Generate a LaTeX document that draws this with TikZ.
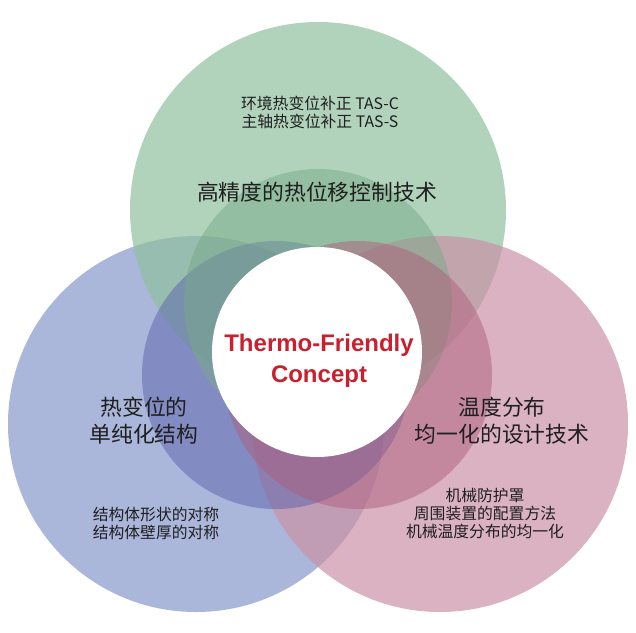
\documentclass[tikz,border=0pt]{standalone}
\usepackage{fontspec}
\setmainfont{Noto Sans CJK SC}
\newfontfamily\latinsans{Liberation Sans}

\definecolor{greenbig}{HTML}{90C09E}
\definecolor{bluebig}{HTML}{8697CA}
\definecolor{pinkbig}{HTML}{CA91A6}
\definecolor{greeninner}{HTML}{78AA87}
\definecolor{blueinner}{HTML}{5A64AA}
\definecolor{pinkinner}{HTML}{AF5F7D}
\definecolor{conceptred}{HTML}{C8202F}

\tikzset{
  bigcircle/.style={fill opacity=0.7},
  innercircle/.style={fill opacity=0.5},
  maintext/.style={font=\fontsize{10.9}{13.5}\selectfont, align=center, text=black!88},
  smalltext/.style={font=\fontsize{7.9}{9}\selectfont, align=center, text=black!88},
}

\begin{document}
\begin{tikzpicture}[x=0.5pt, y=-0.5pt]
    \useasboundingbox (0,0) rectangle (636,632);

    % centres of the circles
    \coordinate (greencentre) at (318,210);
    \coordinate (bluecentre) at (196,424);
    \coordinate (pinkcentre) at (440,424);
    \coordinate (greenmid) at (318,303);
    \coordinate (bluemid) at (276,375);
    \coordinate (pinkmid) at (358,375);
    \coordinate (core) at (317,352);

    % three large circles
    \fill[bluebig, bigcircle] (bluecentre) circle (188);
    \fill[greenbig, bigcircle] (greencentre) circle (188);
    \fill[pinkbig, bigcircle] (pinkcentre) circle (188);

    % inner circles
    \fill[blueinner, innercircle] (bluemid) circle (134);
    \fill[greeninner, innercircle] (greenmid) circle (134);
    \fill[pinkinner, innercircle] (pinkmid) circle (134);

    % white centre
    \fill[white] (core) circle (105);

    \node[font=\latinsans\bfseries\fontsize{12}{15.5}\selectfont, text=conceptred, align=center]
        (concept) at (319,361) {Thermo-Friendly\\Concept};

    \node[smalltext] (greennote) at (320,112) {环境热变位补正 TAS-C\\主轴热变位补正 TAS-S};
    \node[maintext] (greentitle) at (317,192) {高精度的热位移控制技术};

    \node[maintext] (bluetitle) at (144,421) {热变位的\\单纯化结构};
    \node[smalltext] (bluenote) at (156,523) {结构体形状的对称\\结构体壁厚的对称};

    \node[maintext] (pinktitle) at (502,421) {温度分布\\均一化的设计技术};
    \node[smalltext] (pinknote) at (485,514) {机械防护罩\\周围装置的配置方法\\机械温度分布的均一化};
\end{tikzpicture}
\end{document}
